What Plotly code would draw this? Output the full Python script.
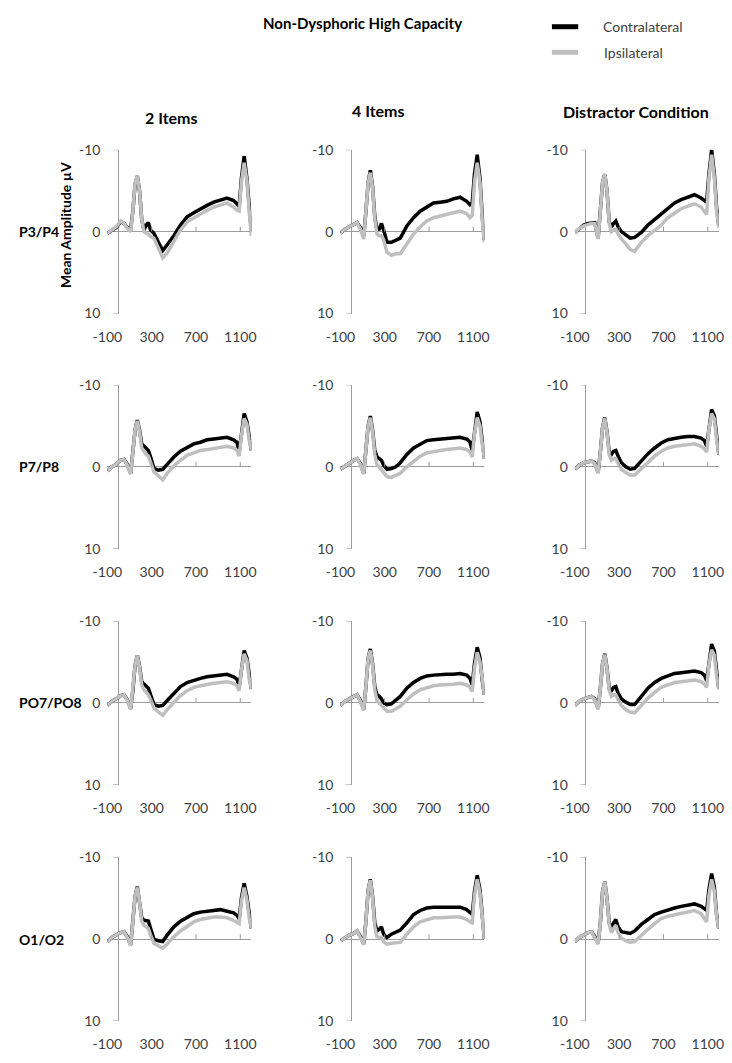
import plotly.graph_objects as go

# ---------------- data ----------------
time_ms = [-100, -60, -20, 20, 50, 80, 110, 130, 150, 170, 190, 210, 230, 250, 270, 290,
           320, 360, 400, 440, 500, 560, 620, 680, 740, 800, 860, 920, 980, 1040, 1070,
           1090, 1110, 1135, 1160, 1180, 1200]

row_labels = ["P3/P4", "P7/P8", "PO7/PO8", "O1/O2"]
col_labels = ["2 Items", "4 Items", "Distractor Condition"]
x_ticks = [-100, 300, 700, 1100]
y_ticks = [-10, 0, 10]

# P3/P4
p3p4_2_contra = [0.2, -0.2, -0.5, -1.2, -1.0, -0.5, -0.3, -2.5, -5.8, -6.8, -5.0, -1.5, -0.2, -0.8, -1.1, -0.2,
                 0.2, 1.3, 2.3, 1.6, 0.5, -0.8, -1.8, -2.3, -2.8, -3.2, -3.6, -3.8, -4.1, -3.8, -3.3,
                 -3.1, -6.5, -9.2, -6.5, -2.5, 0.0]
p3p4_2_ipsi = [0.2, -0.2, -0.6, -1.3, -1.0, -0.4, 0.0, -2.5, -6.0, -6.8, -5.0, -1.5, 0.0, 0.2, 0.3, 0.6,
               0.8, 2.0, 3.2, 2.6, 1.1, -0.2, -1.2, -1.7, -2.2, -2.6, -3.0, -3.2, -3.5, -3.0, -2.6,
               -2.5, -6.0, -8.4, -6.2, -2.5, 0.5]
p3p4_4_contra = [0.2, -0.3, -0.6, -0.9, -1.1, -0.5, 0.5, -2.5, -6.0, -7.5, -5.5, -1.8, -0.2, -0.3, -1.0, -0.2,
                 1.3, 1.3, 1.0, 0.8, -0.7, -1.7, -2.5, -3.0, -3.5, -3.6, -3.7, -4.0, -4.2, -3.7, -3.3,
                 -3.5, -7.0, -9.4, -6.5, -2.0, 1.0]
p3p4_4_ipsi = [0.2, -0.3, -0.6, -0.9, -1.1, -0.3, 0.9, -2.5, -6.0, -7.2, -5.3, -1.5, 0.3, 0.5, 0.5, 1.0,
               2.5, 2.9, 2.7, 2.7, 1.5, 0.3, -0.6, -1.3, -1.7, -1.9, -2.0, -2.2, -2.5, -2.2, -1.7,
               -2.0, -6.0, -8.4, -6.0, -1.5, 1.3]
p3p4_d_contra = [0.1, -0.4, -0.8, -1.0, -1.0, -1.1, 0.8, -2.5, -6.0, -7.0, -5.0, -1.2, -0.6, -1.0, -1.3, -0.6,
                 0.0, 0.4, 0.8, 0.7, 0.1, -0.8, -1.5, -2.2, -2.9, -3.5, -3.9, -4.2, -4.5, -4.1, -3.8,
                 -3.6, -7.0, -10.0, -7.0, -3.0, -0.7]
p3p4_d_ipsi = [0.1, -0.4, -0.7, -0.9, -1.0, -1.0, 0.9, -2.5, -6.0, -7.0, -5.0, -1.0, 0.0, -0.2, -0.3, 0.3,
               0.9, 1.5, 2.2, 2.4, 1.3, 0.5, -0.2, -0.8, -1.7, -2.3, -2.8, -3.1, -3.4, -3.0, -2.4,
               -2.1, -6.5, -9.4, -6.5, -2.5, -0.5]

# P7/P8
p7p8_2_contra = [0.5, 0.0, -0.3, -0.8, -0.9, -0.3, 0.8, -1.5, -4.5, -5.7, -4.5, -2.8, -2.5, -2.2, -2.0, -1.2,
                 0.2, 0.4, 0.3, -0.3, -1.2, -1.9, -2.4, -2.8, -3.0, -3.3, -3.4, -3.5, -3.6, -3.3, -3.0,
                 -1.8, -4.0, -6.5, -5.5, -3.5, -2.0]
p7p8_2_ipsi = [0.5, 0.0, -0.3, -0.8, -0.9, -0.2, 0.9, -1.5, -4.5, -5.6, -4.3, -2.3, -1.8, -1.5, -1.3, -0.6,
               0.6, 1.1, 1.6, 0.8, -0.1, -0.8, -1.4, -1.7, -2.0, -2.1, -2.2, -2.3, -2.5, -2.3, -2.0,
               -1.3, -3.8, -5.9, -5.2, -3.3, -2.0]
p7p8_4_contra = [0.3, -0.1, -0.4, -0.8, -1.0, -0.4, 0.8, -1.8, -5.0, -6.2, -4.5, -2.0, -1.2, -1.0, -0.8, -0.2,
                 0.3, 0.2, 0.0, -0.5, -1.5, -2.3, -2.8, -3.2, -3.3, -3.4, -3.5, -3.5, -3.6, -3.4, -3.0,
                 -2.0, -4.5, -6.7, -5.5, -3.0, -1.0]
p7p8_4_ipsi = [0.3, -0.1, -0.4, -0.8, -1.0, -0.3, 0.9, -1.8, -5.0, -6.0, -4.3, -1.5, -0.3, 0.0, 0.3, 0.7,
               1.2, 1.3, 1.0, 0.8, 0.0, -0.7, -1.3, -1.7, -1.9, -2.0, -2.1, -2.2, -2.3, -2.1, -1.8,
               -1.2, -4.0, -6.0, -5.0, -2.8, -1.0]
p7p8_d_contra = [0.3, -0.2, -0.5, -0.6, -0.7, -0.5, 0.7, -1.8, -4.8, -6.0, -4.3, -1.8, -1.5, -1.9, -2.0, -1.3,
                 -0.5, 0.0, 0.3, 0.2, -0.7, -1.6, -2.3, -2.9, -3.3, -3.5, -3.6, -3.7, -3.7, -3.5, -3.2,
                 -2.5, -4.8, -7.0, -6.2, -3.5, -1.5]
p7p8_d_ipsi = [0.3, -0.2, -0.5, -0.6, -0.7, -0.4, 0.8, -1.8, -4.8, -5.9, -4.2, -1.5, -0.8, -1.0, -1.0, -0.4,
               0.3, 0.7, 1.0, 1.0, 0.2, -0.6, -1.3, -1.9, -2.3, -2.5, -2.6, -2.7, -2.8, -2.5, -2.2,
               -1.8, -4.5, -6.5, -5.8, -3.3, -1.5]

# PO7/PO8
po7po8_2_contra = [0.3, -0.2, -0.5, -0.9, -1.0, -0.4, 0.7, -1.5, -4.6, -5.8, -4.5, -2.6, -2.3, -2.0, -1.8, -1.0,
                   0.2, 0.4, 0.3, -0.3, -1.2, -2.0, -2.5, -2.8, -3.0, -3.2, -3.3, -3.4, -3.5, -3.2, -2.9,
                   -2.0, -4.2, -6.4, -5.5, -3.2, -1.7]
po7po8_2_ipsi = [0.3, -0.2, -0.5, -0.9, -1.0, -0.3, 0.8, -1.5, -4.6, -5.8, -4.4, -2.2, -1.6, -1.3, -1.0, -0.4,
                 0.6, 1.1, 1.5, 0.8, 0.0, -0.9, -1.5, -1.9, -2.1, -2.3, -2.4, -2.5, -2.6, -2.4, -2.1,
                 -1.5, -4.0, -6.0, -5.2, -3.0, -1.7]
po7po8_4_contra = [0.3, -0.2, -0.5, -0.8, -1.0, -0.3, 0.8, -2.0, -5.5, -6.6, -4.8, -2.0, -1.0, -0.8, -0.5, 0.0,
                   0.2, 0.1, -0.3, -0.8, -1.8, -2.5, -3.0, -3.3, -3.4, -3.5, -3.5, -3.5, -3.6, -3.4, -3.0,
                   -2.2, -4.8, -6.8, -5.5, -2.8, -1.0]
po7po8_4_ipsi = [0.3, -0.2, -0.5, -0.8, -1.0, -0.2, 0.9, -2.0, -5.5, -6.4, -4.6, -1.6, -0.3, 0.0, 0.3, 0.7,
                 1.0, 1.0, 0.7, 0.4, -0.4, -1.1, -1.6, -1.9, -2.1, -2.2, -2.2, -2.3, -2.4, -2.2, -1.9,
                 -1.4, -4.2, -6.2, -5.0, -2.6, -1.0]
po7po8_d_contra = [0.3, -0.2, -0.5, -0.7, -0.8, -0.5, 0.7, -1.8, -4.8, -6.0, -4.3, -1.8, -1.5, -1.9, -2.0, -1.2,
                   -0.5, -0.1, 0.2, 0.2, -0.8, -1.8, -2.5, -3.0, -3.3, -3.6, -3.7, -3.8, -3.9, -3.7, -3.4,
                   -2.7, -5.0, -7.2, -6.3, -3.5, -1.7]
po7po8_d_ipsi = [0.3, -0.2, -0.5, -0.7, -0.8, -0.4, 0.8, -1.8, -4.8, -5.9, -4.2, -1.5, -0.8, -1.0, -1.0, -0.4,
                 0.3, 0.8, 1.1, 1.2, 0.3, -0.6, -1.3, -1.9, -2.2, -2.5, -2.6, -2.7, -2.8, -2.6, -2.3,
                 -1.9, -4.6, -6.5, -5.8, -3.3, -1.7]

# O1/O2
o1o2_2_contra = [0.3, -0.2, -0.5, -0.8, -0.9, -0.3, 0.7, -1.8, -5.2, -6.4, -4.8, -2.6, -2.3, -2.2, -2.2, -1.3,
                 0.0, 0.2, 0.3, -0.5, -1.5, -2.2, -2.7, -3.1, -3.3, -3.4, -3.5, -3.6, -3.4, -3.2, -2.9,
                 -2.5, -5.0, -6.8, -5.2, -2.8, -1.3]
o1o2_2_ipsi = [0.3, -0.2, -0.5, -0.8, -0.9, -0.2, 0.8, -1.8, -5.2, -6.3, -4.6, -2.2, -1.7, -1.5, -1.3, -0.5,
               0.5, 0.8, 1.1, 0.6, -0.3, -1.0, -1.6, -2.1, -2.4, -2.6, -2.7, -2.7, -2.6, -2.3, -2.0,
               -1.9, -4.6, -6.3, -4.8, -2.6, -1.3]
o1o2_4_contra = [0.2, -0.2, -0.5, -0.7, -1.0, -0.3, 0.6, -2.2, -6.0, -7.3, -5.2, -2.0, -1.0, -1.2, -1.5, -0.6,
                 -0.2, -0.6, -0.9, -1.1, -2.0, -3.0, -3.5, -3.8, -3.9, -3.9, -3.9, -3.9, -3.9, -3.6, -3.3,
                 -3.0, -5.8, -7.8, -6.0, -2.5, 0.0]
o1o2_4_ipsi = [0.2, -0.2, -0.5, -0.7, -1.0, -0.2, 0.7, -2.2, -6.0, -7.2, -5.0, -1.5, -0.3, -0.2, -0.2, 0.3,
               0.6, 0.5, 0.4, 0.4, -0.6, -1.5, -2.1, -2.4, -2.6, -2.6, -2.7, -2.7, -2.7, -2.4, -2.1,
               -2.0, -5.3, -7.3, -5.6, -2.3, 0.0]
o1o2_d_contra = [0.3, -0.2, -0.5, -0.8, -0.9, -0.3, 0.5, -2.0, -5.8, -7.0, -5.0, -2.0, -1.3, -2.0, -2.4, -1.5,
                 -0.9, -0.8, -0.7, -1.0, -1.8, -2.4, -3.0, -3.3, -3.6, -3.8, -4.0, -4.1, -4.3, -4.0, -3.7,
                 -3.5, -6.0, -8.0, -6.3, -3.0, -1.3]
o1o2_d_ipsi = [0.3, -0.2, -0.5, -0.8, -0.9, -0.2, 0.6, -2.0, -5.8, -7.0, -5.0, -1.8, -0.8, -1.3, -1.7, -0.8,
               -0.1, 0.2, 0.4, 0.3, -0.5, -1.2, -1.9, -2.5, -2.8, -3.0, -3.2, -3.3, -3.5, -3.1, -2.6,
               -2.1, -5.3, -7.3, -5.8, -2.8, -1.3]

panels = [
    [(p3p4_2_contra, p3p4_2_ipsi), (p3p4_4_contra, p3p4_4_ipsi), (p3p4_d_contra, p3p4_d_ipsi)],
    [(p7p8_2_contra, p7p8_2_ipsi), (p7p8_4_contra, p7p8_4_ipsi), (p7p8_d_contra, p7p8_d_ipsi)],
    [(po7po8_2_contra, po7po8_2_ipsi), (po7po8_4_contra, po7po8_4_ipsi), (po7po8_d_contra, po7po8_d_ipsi)],
    [(o1o2_2_contra, o1o2_2_ipsi), (o1o2_4_contra, o1o2_4_ipsi), (o1o2_d_contra, o1o2_d_ipsi)],
]

# ---------------- layout geometry (pixels) ----------------
W, H = 732, 1063
col_left = [95, 334.6, 575.6]
plot_w = 148
row_top = [143, 382, 622, 862]
plot_h = 166.5

BLACK = "#000000"
GRAY = "#bfbfbf"
AXIS = "#9c9c9c"
TXT = "#404040"
FONT = "Lato"

fig = go.Figure()
shapes = []
annotations = []

idx = 0
for r in range(4):
    for c in range(3):
        idx += 1
        sfx = "" if idx == 1 else str(idx)
        xa, ya = "x" + sfx, "y" + sfx
        contra, ipsi = panels[r][c]
        fig.add_trace(go.Scatter(x=time_ms, y=contra, mode="lines",
                                 line=dict(color=BLACK, width=3.5), xaxis=xa, yaxis=ya,
                                 showlegend=False, name="Contralateral"))
        fig.add_trace(go.Scatter(x=time_ms, y=ipsi, mode="lines",
                                 line=dict(color=GRAY, width=3.5), xaxis=xa, yaxis=ya,
                                 showlegend=False, name="Ipsilateral"))
        x0 = col_left[c] / W
        x1 = (col_left[c] + plot_w) / W
        y1 = 1 - row_top[r] / H
        y0 = 1 - (row_top[r] + plot_h) / H
        fig.layout["xaxis" + sfx] = dict(
            domain=[x0, x1], anchor=ya, range=[-100, 1200],
            showgrid=False, showline=False, ticks="",
            zeroline=True, zerolinecolor=AXIS, zerolinewidth=1,
            tickmode="array", tickvals=x_ticks, ticktext=[str(v) for v in x_ticks],
            tickfont=dict(family=FONT, size=14, color=TXT),
            ticklabelstandoff=13, ticklabeloverflow="allow",
        )
        fig.layout["yaxis" + sfx] = dict(
            domain=[y0, y1], anchor=xa, range=[10, -10],
            showgrid=False, showline=False, ticks="",
            zeroline=True, zerolinecolor=AXIS, zerolinewidth=1,
            tickmode="array", tickvals=y_ticks, ticktext=[str(v) for v in y_ticks],
            tickfont=dict(family=FONT, size=14, color=TXT),
            ticklabelstandoff=6, ticklabeloverflow="allow",
        )
        # small tick marks on the axes that cross at zero
        for yv in (y_ticks[0], y_ticks[-1]):
            shapes.append(dict(type="line", xref=xa, yref=ya, x0=-50, x1=0, y0=yv, y1=yv,
                               line=dict(color=AXIS, width=1)))
        for xv in x_ticks[1:]:
            shapes.append(dict(type="line", xref=xa, yref=ya, x0=xv, x1=xv, y0=0, y1=-0.6,
                               line=dict(color=AXIS, width=1)))

# row labels
for r, lab in enumerate(row_labels):
    annotations.append(dict(text="<b>" + lab + "</b>", xref="paper", yref="paper",
                            x=2 / W, y=1 - (row_top[r] + plot_h / 2) / H, xanchor="left",
                            yanchor="middle", showarrow=False,
                            font=dict(family=FONT, size=14, color="#000")))
# y axis title (first panel only)
annotations.append(dict(text="<b>Mean Amplitude µV</b>", xref="paper", yref="paper",
                        x=52 / W, y=1 - 220 / H, textangle=-90, showarrow=False,
                        xanchor="center", yanchor="middle",
                        font=dict(family=FONT, size=14, color="#000")))
# column headers
col_pos = [(161, 110), (374, 103), (638, 104)]
for lab, (cx, cy) in zip(col_labels, col_pos):
    annotations.append(dict(text="<b>" + lab + "</b>", xref="paper", yref="paper",
                            x=cx / W, y=1 - cy / H, xanchor="center", yanchor="middle",
                            showarrow=False, font=dict(family=FONT, size=16, color="#000")))
# title
annotations.append(dict(text="<b>Non-Dysphoric High Capacity</b>", xref="paper", yref="paper",
                        x=357 / W, y=1 - 14 / H, xanchor="center", yanchor="middle",
                        showarrow=False, font=dict(family=FONT, size=15, color="#000")))
# legend
for name, color, ly in (("Contralateral", BLACK, 18), ("Ipsilateral", GRAY, 44)):
    shapes.append(dict(type="line", xref="paper", yref="paper", x0=552 / W, x1=579 / W,
                       y0=1 - ly / H, y1=1 - ly / H, line=dict(color=color, width=5)))
    annotations.append(dict(text=name, xref="paper", yref="paper", x=(602 if name == "Contralateral" else 604) / W,
                            y=1 - ly / H, xanchor="left", yanchor="middle", showarrow=False,
                            font=dict(family=FONT, size=14, color=TXT)))

fig.update_layout(width=W, height=H, margin=dict(l=0, r=0, t=0, b=0),
                  paper_bgcolor="white", plot_bgcolor="white",
                  shapes=shapes, annotations=annotations, showlegend=False)

fig.write_html("out.html", config={"displayModeBar": False},
               post_script="document.body.style.margin='0';document.body.style.overflow='hidden';")
